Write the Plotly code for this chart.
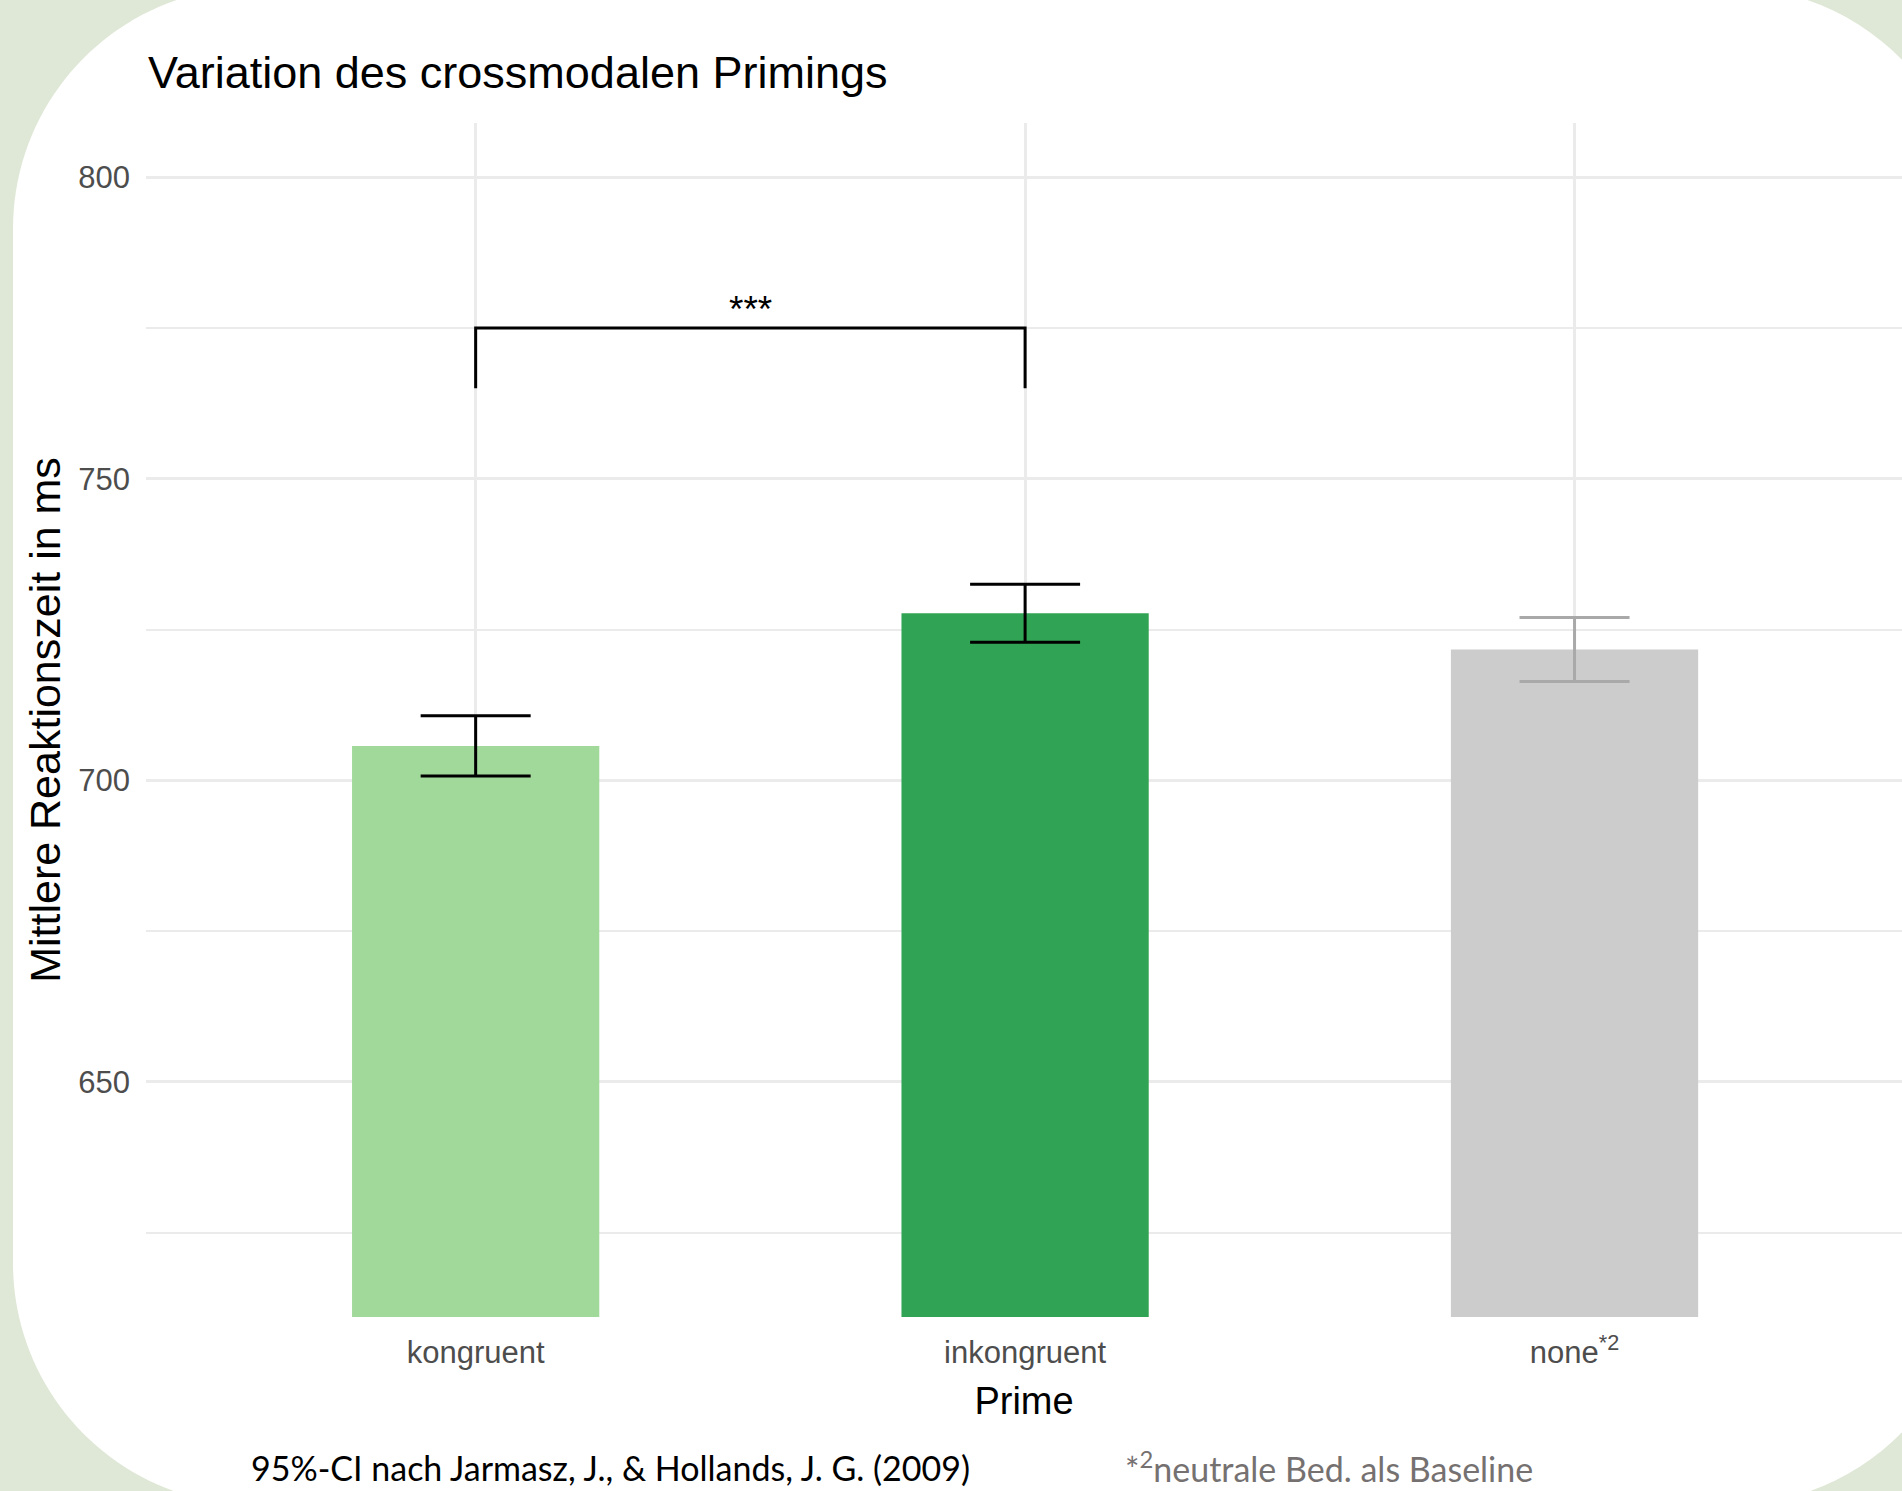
import plotly.graph_objects as go

# --- data -------------------------------------------------------------
categories = ["kongruent", "inkongruent", "none"]
tick_labels = ["kongruent", "inkongruent", "none<sup>*2</sup>"]
mean_rt = [705.7, 727.7, 721.7]          # mittlere Reaktionszeit (ms)
ci_95 = [5.0, 4.8, 5.3]                  # halbe Breite des 95%-CI (ms)
bar_colors = ["#A1D99B", "#31A354", "#CCCCCC"]
errorbar_colors = ["#000000", "#000000", "#A9A9A9"]

sig_pair = ["kongruent", "inkongruent"]
sig_label = "***"
bracket_low, bracket_high = 765, 775

# --- canvas geometry ----------------------------------------------------
W, H = 1902, 1491
M_L, M_R, M_T, M_B = 146, 0, 123, 174
PW = W - M_L - M_R
PH = H - M_T - M_B

BG_GREEN = "#DFE8D6"
SANS = "Liberation Sans, Arial, sans-serif"
NOTE_FONT = "Lato, Open Sans, sans-serif"


def to_paper(px, py):
    """pixel position on the page -> paper coordinates of the plot area"""
    return (px - M_L) / PW, (H - M_B - py) / PH


def rounded_rect_path(x0, y0, x1, y1, r):
    k = 0.5523 * r
    pts = [
        ("M", [(x0 + r, y0)]),
        ("L", [(x1 - r, y0)]),
        ("C", [(x1 - r + k, y0), (x1, y0 + r - k), (x1, y0 + r)]),
        ("L", [(x1, y1 - r)]),
        ("C", [(x1, y1 - r + k), (x1 - r + k, y1), (x1 - r, y1)]),
        ("L", [(x0 + r, y1)]),
        ("C", [(x0 + r - k, y1), (x0, y1 - r + k), (x0, y1 - r)]),
        ("L", [(x0, y0 + r)]),
        ("C", [(x0, y0 + r - k), (x0 + r - k, y0), (x0 + r, y0)]),
    ]
    parts = []
    for cmd, coords in pts:
        conv = [to_paper(x, y) for x, y in coords]
        parts.append(cmd + " ".join(f"{a:.5f},{b:.5f}" for a, b in conv))
    return " ".join(parts) + " Z"


fig = go.Figure()

# bars with confidence intervals
for cat, m, ci, bc, ec in zip(categories, mean_rt, ci_95, bar_colors, errorbar_colors):
    fig.add_trace(go.Bar(
        x=[cat], y=[m], width=0.45,
        marker=dict(color=bc, line=dict(width=0)),
        error_y=dict(type="data", array=[ci], color=ec, thickness=3, width=55),
        showlegend=False, hoverinfo="skip",
    ))

# significance bracket
fig.add_trace(go.Scatter(
    x=[sig_pair[0], sig_pair[0], sig_pair[1], sig_pair[1]],
    y=[bracket_low, bracket_high, bracket_high, bracket_low],
    mode="lines", line=dict(color="black", width=3),
    showlegend=False, hoverinfo="skip",
))
i0, i1 = categories.index(sig_pair[0]), categories.index(sig_pair[1])
fig.add_annotation(
    x=(i0 + i1) / 2, y=bracket_high, xref="x", yref="y",
    text=sig_label, showarrow=False, yanchor="bottom", yshift=-4,
    font=dict(family=SANS, size=37, color="black"),
)

# white rounded card behind the chart
fig.add_shape(
    type="path", xref="paper", yref="paper", layer="below",
    path=rounded_rect_path(13, -13, 1971, 1505, 242),
    fillcolor="white", line=dict(width=0),
)

# footnotes
fx, fy = to_paper(249, 1467)
fig.add_annotation(
    x=fx, y=fy, xref="paper", yref="paper", xanchor="left", yanchor="middle",
    text="95%-CI nach Jarmasz, J., & Hollands, J. G. (2009)", showarrow=False,
    font=dict(family=NOTE_FONT, size=34, color="black"),
)
gx, gy = to_paper(1123, 1467)
fig.add_annotation(
    x=gx, y=gy, xref="paper", yref="paper", xanchor="left", yanchor="middle",
    text="*<sup>2</sup>neutrale Bed. als Baseline", showarrow=False,
    font=dict(family=NOTE_FONT, size=34, color="#767171"),
)

fig.update_layout(
    width=W, height=H,
    margin=dict(l=M_L, r=M_R, t=M_T, b=M_B, autoexpand=False),
    paper_bgcolor=BG_GREEN,
    plot_bgcolor="rgba(0,0,0,0)",
    barmode="overlay",
    title=dict(
        text="Variation des crossmodalen Primings",
        x=148 / W, xref="container", xanchor="left",
        y=1 - 72 / H, yref="container", yanchor="middle",
        font=dict(family=SANS, size=45, color="black"),
    ),
    xaxis=dict(
        type="category", categoryorder="array", categoryarray=categories,
        tickvals=categories, ticktext=tick_labels,
        range=[-0.6, 2.596],
        showgrid=True, gridcolor="#EBEBEB", gridwidth=3.3,
        zeroline=False, showline=False, ticks="", ticklabelstandoff=14,
        tickfont=dict(family=SANS, size=31, color="#4D4D4D"),
        title=dict(text="Prime", standoff=18,
                   font=dict(family=SANS, size=38, color="black")),
    ),
    yaxis=dict(
        range=[611, 809], tick0=0, dtick=50,
        showgrid=True, gridcolor="#EBEBEB", gridwidth=3.3,
        minor=dict(dtick=25, showgrid=True, gridcolor="#EBEBEB", gridwidth=1.7),
        zeroline=False, showline=False, ticks="", ticklabelstandoff=15,
        tickfont=dict(family=SANS, size=31, color="#4D4D4D"),
        title=dict(text="Mittlere Reaktionszeit in ms", standoff=4,
                   font=dict(family=SANS, size=43, color="black")),
    ),
)

fig.write_html("out.html")
